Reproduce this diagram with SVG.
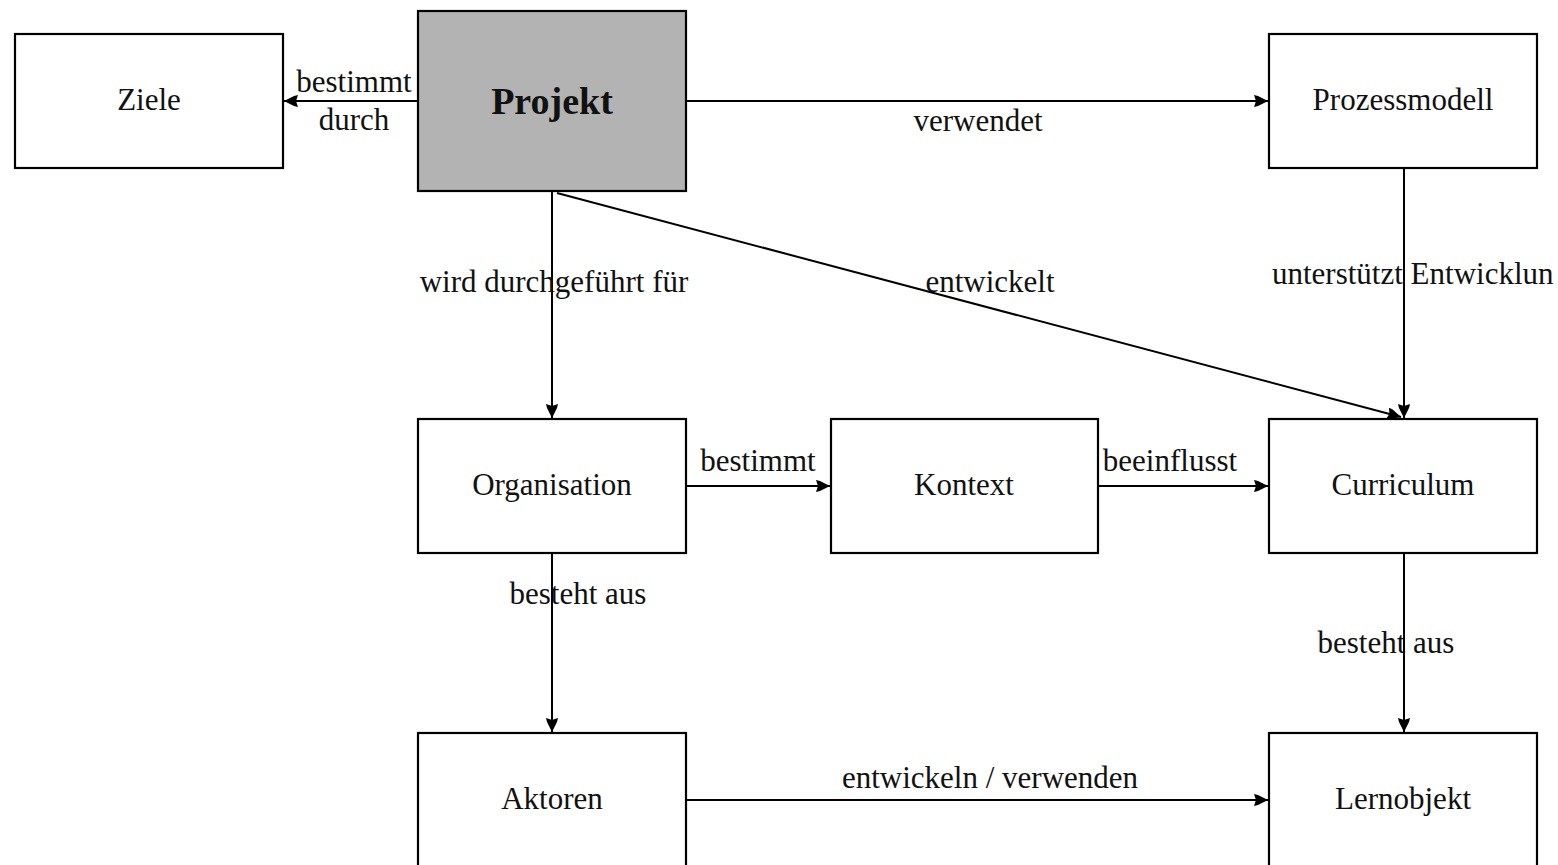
<svg xmlns="http://www.w3.org/2000/svg" width="1558" height="865" viewBox="0 0 1558 865">
<defs>
<style>
.node rect{fill:#fff;stroke:#000;stroke-width:2.2}
.node.main rect{fill:#b3b3b3}
text{font-family:"Liberation Serif","Times New Roman",serif;font-size:31px;fill:#111}
.node text{text-anchor:middle}
.node.main text{font-weight:bold;font-size:38px}
.edges line{stroke:#000;stroke-width:2;fill:none}
.lbl{text-anchor:middle}
</style>
<marker id="arr" markerUnits="userSpaceOnUse" markerWidth="16" markerHeight="14" refX="14" refY="6" orient="auto">
<path d="M0,0 L4,1 L14,6 L4,11 L0,12 L2,6 z" fill="#000"/>
</marker>
</defs>
<rect width="1558" height="865" fill="#fff"/>
<g class="edges">
<line x1="418" y1="101" x2="284" y2="101" marker-end="url(#arr)"/>
<line x1="686" y1="101" x2="1268" y2="101" marker-end="url(#arr)"/>
<line x1="552" y1="191" x2="552" y2="418" marker-end="url(#arr)"/>
<line x1="557" y1="193" x2="1401" y2="417" marker-end="url(#arr)"/>
<line x1="1404" y1="168" x2="1404" y2="418" marker-end="url(#arr)"/>
<line x1="686" y1="486" x2="830" y2="486" marker-end="url(#arr)"/>
<line x1="1098" y1="486" x2="1268" y2="486" marker-end="url(#arr)"/>
<line x1="552" y1="553" x2="552" y2="732" marker-end="url(#arr)"/>
<line x1="1404" y1="553" x2="1404" y2="732" marker-end="url(#arr)"/>
<line x1="686" y1="800" x2="1268" y2="800" marker-end="url(#arr)"/>
<text class="lbl" x="354" y="92">bestimmt</text>
<text class="lbl" x="354" y="130">durch</text>
<text class="lbl" x="978" y="131">verwendet</text>
<text class="lbl" x="554" y="292">wird durchgeführt für</text>
<text class="lbl" x="990" y="292">entwickelt</text>
<text x="1272" y="284">unterstützt Entwicklun</text>
<text class="lbl" x="758" y="471">bestimmt</text>
<text class="lbl" x="1170" y="471">beeinflusst</text>
<text class="lbl" x="578" y="604">besteht aus</text>
<text class="lbl" x="1386" y="653">besteht aus</text>
<text class="lbl" x="990" y="788">entwickeln / verwenden</text>
</g>
<g id="ziele" class="node"><rect x="15" y="34" width="268" height="134"/><text x="149" y="110">Ziele</text></g>
<g id="projekt" class="node main"><rect x="418" y="11" width="268" height="180"/><text x="552" y="114">Projekt</text></g>
<g id="prozessmodell" class="node"><rect x="1269" y="34" width="268" height="134"/><text x="1403" y="110">Prozessmodell</text></g>
<g id="organisation" class="node"><rect x="418" y="419" width="268" height="134"/><text x="552" y="495">Organisation</text></g>
<g id="kontext" class="node"><rect x="831" y="419" width="267" height="134"/><text x="964" y="495">Kontext</text></g>
<g id="curriculum" class="node"><rect x="1269" y="419" width="268" height="134"/><text x="1403" y="495">Curriculum</text></g>
<g id="aktoren" class="node"><rect x="418" y="733" width="268" height="140"/><text x="552" y="809">Aktoren</text></g>
<g id="lernobjekt" class="node"><rect x="1269" y="733" width="268" height="140"/><text x="1403" y="809">Lernobjekt</text></g>
</svg>
